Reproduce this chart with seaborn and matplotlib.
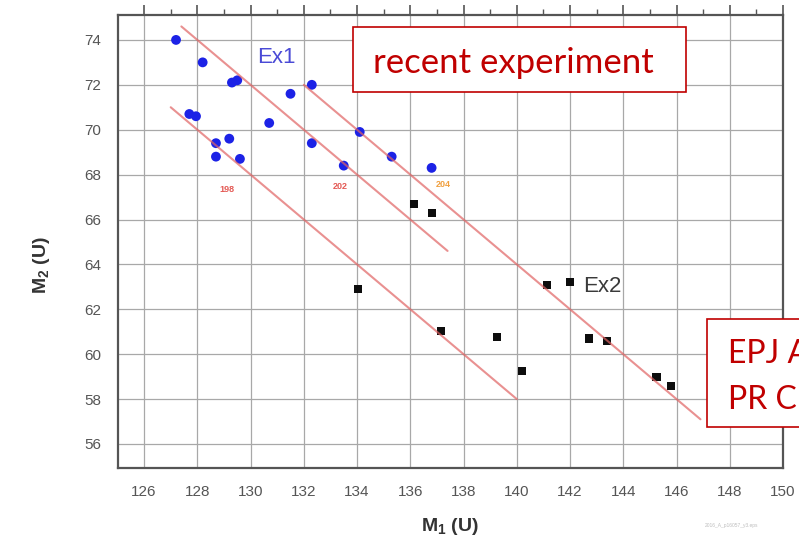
import matplotlib
matplotlib.use("Agg")
import matplotlib.pyplot as plt
from matplotlib.patches import Rectangle
from matplotlib.ticker import MultipleLocator
import pandas as pd
import seaborn as sns

# Ex1 fragments (blue circles)
ex1_m1 = [127.2, 128.2, 129.3, 129.5, 131.5, 132.3, 127.7, 127.95, 130.7, 128.7,
          129.2, 128.7, 129.6, 132.3, 134.1, 133.5, 135.3, 136.8]
ex1_m2 = [74.0, 73.0, 72.1, 72.2, 71.6, 72.0, 70.7, 70.6, 70.3, 69.4,
          69.6, 68.8, 68.7, 69.4, 69.9, 68.4, 68.8, 68.3]

# Ex2 fragments (black squares)
ex2_m1 = [136.15, 136.8, 134.05, 137.15, 139.25, 140.2, 141.15, 142.0,
          142.7, 143.4, 145.25, 145.8]
ex2_m2 = [66.7, 66.3, 62.9, 61.05, 60.75, 59.25, 63.1, 63.2,
          60.7, 60.6, 59.0, 58.6]

# constant total-mass lines M1 + M2 = A
line_sums = [198, 202, 204]
line_m1_start = [127.0, 127.4, 132.0]
line_m1_end = [140.0, 137.4, 146.9]
line_label_colors = ["#e45a55", "#e45a55", "#f0a040"]

x_ticks = list(range(126, 151, 2))
y_ticks = list(range(56, 75, 2))

W, H = 799, 546


def fx(px):
    return px / W


def fy(py):
    return 1 - py / H


sns.set_theme(style="white")
plt.rcParams["font.family"] = ["Liberation Sans", "DejaVu Sans"]
plt.rcParams["mathtext.fontset"] = "custom"
plt.rcParams["mathtext.rm"] = "Liberation Sans:bold"
plt.rcParams["mathtext.bf"] = "Liberation Sans:bold"

fig = plt.figure(figsize=(W / 100, H / 100), dpi=100)
ax = fig.add_axes([fx(118), fy(468), (783 - 118) / W, (468 - 15) / H])

ex1 = pd.DataFrame({"M1": ex1_m1, "M2": ex1_m2})
ex2 = pd.DataFrame({"M1": ex2_m1, "M2": ex2_m2})
rows = []
for a, s, e in zip(line_sums, line_m1_start, line_m1_end):
    rows.append({"A": a, "M1": s, "M2": a - s})
    rows.append({"A": a, "M1": e, "M2": a - e})
lines = pd.DataFrame(rows)

sns.scatterplot(data=ex1, x="M1", y="M2", ax=ax, marker="o", s=50,
                color="#1c22e6", edgecolor="none", zorder=3)
sns.scatterplot(data=ex2, x="M1", y="M2", ax=ax, marker="s", s=34,
                color="#0d0d0d", edgecolor="none", zorder=3)
sns.lineplot(data=lines, x="M1", y="M2", units="A", estimator=None, ax=ax,
             color="#e06262", linewidth=1.5, alpha=0.7, zorder=4)

for a, c, (lx, ly) in zip(line_sums, line_label_colors,
                          [(129.12, 67.32), (133.38, 67.45), (137.23, 67.58)]):
    ax.text(lx, ly, str(a), color=c, fontsize=6.5, fontweight="bold",
            ha="center", va="center", zorder=5)

ax.text(130.23, 72.96, "Ex1", color="#4a4ad6", fontsize=16, ha="left",
        va="baseline", zorder=5)
ax.text(142.48, 62.78, "Ex2", color="#3a3a3a", fontsize=16, ha="left",
        va="baseline", zorder=5)

ax.set_xlim(125.02, 150.0)
ax.set_ylim(54.93, 75.11)
ax.set_xticks(x_ticks)
ax.set_yticks(y_ticks)
ax.xaxis.set_minor_locator(MultipleLocator(1))
ax.yaxis.set_minor_locator(MultipleLocator(1))
ax.grid(True, which="major", color="#a8a8a8", linewidth=0.9)
ax.set_axisbelow(True)
ax.tick_params(which="major", direction="out", length=7, width=1.2,
               color="#555555", labelcolor="#555555", labelsize=11,
               top=True, right=False, labeltop=False, pad=5)
ax.tick_params(which="minor", direction="out", length=4, width=1.0,
               color="#555555", top=True, right=False)
for sp in ax.spines.values():
    sp.set_color("#555555")
    sp.set_linewidth(1.6)

ax.set_xlabel(r"M$_1$ (U)", fontsize=14, fontweight="bold", color="#333333")
ax.set_ylabel(r"M$_2$ (U)", fontsize=14, fontweight="bold", color="#333333")
ax.xaxis.set_label_coords(0.5, -0.105)
ax.yaxis.set_label_coords(-0.1, 0.448)

# annotation boxes
red = "#c00000"
fig.patches.append(Rectangle((fx(352.7), fy(91.7)), (685.7 - 352.7) / W,
                             (91.7 - 26.7) / H, transform=fig.transFigure,
                             facecolor="white", edgecolor=red, linewidth=1.2,
                             zorder=10))
fig.text(fx(373), fy(72.7), "recent experiment", color=red, fontsize=25,
         family=["Lato", "DejaVu Sans"], ha="left", va="baseline", zorder=11)
fig.patches.append(Rectangle((fx(707.3), fy(427.3)), (830 - 707.3) / W,
                             (427.3 - 319) / H, transform=fig.transFigure,
                             facecolor="white", edgecolor=red, linewidth=1.2,
                             zorder=10))
fig.text(fx(728.3), fy(362.7), "EPJ A", color=red, fontsize=23,
         family=["Lato", "DejaVu Sans"], ha="left", va="baseline", zorder=11)
fig.text(fx(728.3), fy(409), "PR C", color=red, fontsize=23,
         family=["Lato", "DejaVu Sans"], ha="left", va="baseline", zorder=11)

fig.text(fx(732), fy(525), "2016_A_p16057_y3.eps", color="#bdbdbd",
         fontsize=3.5, ha="center", va="center")

fig.savefig("out.png", dpi=100)
